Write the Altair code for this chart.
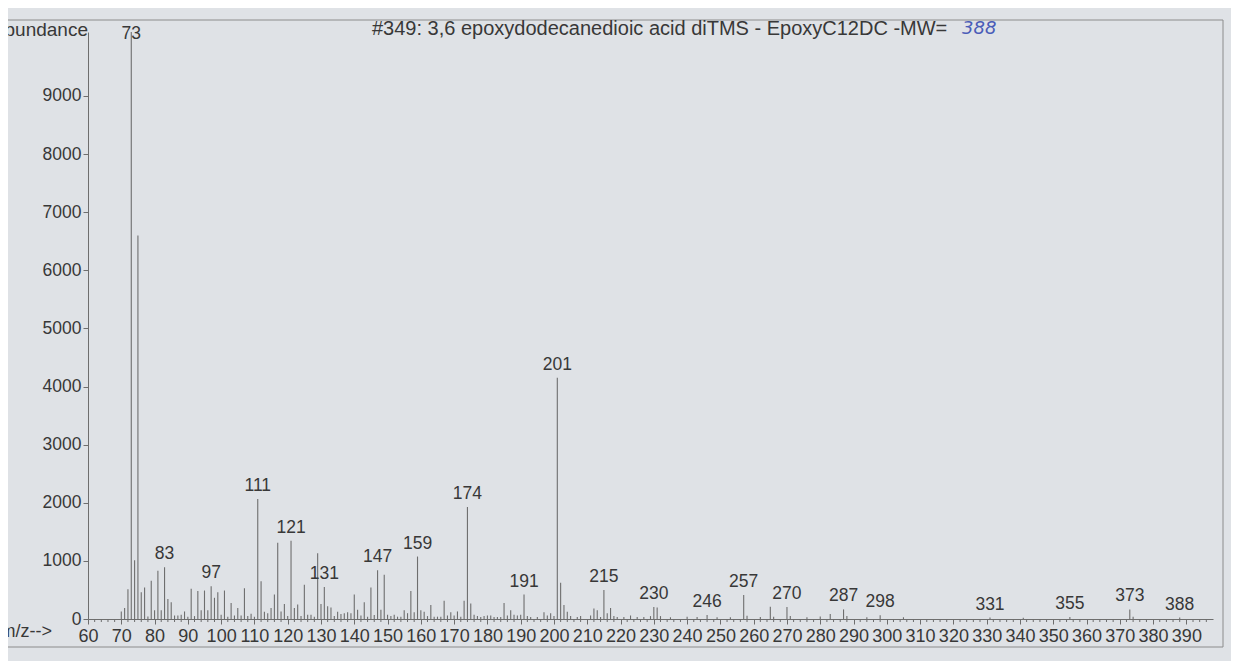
import altair as alt
import pandas as pd

# m/z values and abundances
mz = [70, 71, 72, 73, 74, 75, 76, 77, 78, 79, 80, 81, 82, 83, 84, 85, 86, 87, 88, 89,
      90, 91, 92, 93, 94, 95, 96, 97, 98, 99, 100, 101, 102, 103, 104, 105, 106, 107, 108, 109,
      110, 111, 112, 113, 114, 115, 116, 117, 118, 119, 120, 121, 122, 123, 124, 125, 126, 127, 128, 129,
      130, 131, 132, 133, 134, 135, 136, 137, 138, 139, 140, 141, 142, 143, 144, 145, 146, 147, 148, 149,
      150, 151, 152, 153, 154, 155, 156, 157, 158, 159, 160, 161, 162, 163, 164, 165, 166, 167, 168, 169,
      170, 171, 172, 173, 174, 175, 176, 177, 178, 179, 180, 181, 182, 183, 184, 185, 186, 187, 188, 189,
      190, 191, 192, 193, 195, 197, 198, 199, 200, 201, 202, 203, 204, 205, 207, 208, 211, 212, 213, 214,
      215, 216, 217, 218, 219, 221, 223, 225, 227, 229, 230, 231, 232, 235, 240, 243, 246, 249, 253, 257,
      258, 262, 265, 266, 270, 271, 276, 280, 283, 287, 288, 294, 298, 305, 331, 341, 355, 373, 374, 388]
abundance = [130, 190, 510, 10100, 1010, 6600, 460, 540, 45, 660, 150, 830, 150, 890, 345, 290, 60, 60, 75, 130,
             40, 520, 50, 480, 150, 490, 150, 565, 365, 460, 75, 490, 40, 275, 60, 190, 60, 530, 50, 90,
             40, 2065, 650, 125, 100, 190, 420, 1310, 130, 260, 50, 1345, 190, 250, 50, 590, 75, 75, 40, 1130,
             260, 550, 220, 200, 50, 125, 85, 100, 115, 100, 420, 160, 60, 290, 40, 540, 70, 840, 160, 760,
             75, 50, 75, 40, 40, 150, 100, 480, 115, 1075, 150, 125, 50, 240, 40, 40, 40, 315, 60, 115,
             60, 130, 40, 315, 1925, 265, 75, 50, 35, 50, 60, 60, 35, 35, 35, 275, 60, 150, 75, 60,
             75, 420, 50, 35, 35, 115, 60, 100, 50, 4150, 625, 240, 125, 50, 35, 50, 60, 180, 150, 35,
             500, 100, 190, 50, 35, 35, 60, 35, 35, 50, 205, 200, 50, 30, 40, 35, 70, 30, 30, 415,
             55, 35, 210, 40, 205, 50, 30, 45, 85, 165, 50, 30, 65, 30, 25, 20, 35, 165, 40, 25]

label_mz = [73, 83, 97, 111, 121, 131, 147, 159, 174, 191, 201, 215, 230, 246, 257, 270,
            287, 298, 331, 355, 373, 388]
major_ticks = list(range(60, 400, 10))
minor_ticks = [v for v in range(60, 398, 2) if v % 10 != 0]
y_ticks = list(range(0, 10000, 1000))

title_text = "#349: 3,6 epoxydodecanedioic acid diTMS - EpoxyC12DC -MW="
mw_note = "388"

df = pd.DataFrame({"mz": mz, "ab": abundance})
lab = df[df["mz"].isin(label_mz)].reset_index(drop=True)
minor_df = pd.DataFrame({"mz": minor_ticks})

FONT = "Liberation Sans"
LINE = "#6e6e6e"
TXT = "#383838"
W, H = 1125, 587

x_scale = alt.Scale(domain=[60, 398], nice=False, zero=False)
y_scale = alt.Scale(domain=[0, 10100], nice=False)

x_axis = alt.Axis(values=major_ticks, title=None, grid=False, format="d",
                  labelFontSize=18, labelFont=FONT, labelColor=TXT,
                  labelPadding=3, tickSize=5, tickColor=LINE, domainColor=LINE,
                  labelOverlap=False, labelFlush=False, labelBound=False)
y_axis = alt.Axis(values=y_ticks, title=None, grid=False, format="d",
                  labelFontSize=17.5, labelFont=FONT, labelColor=TXT,
                  labelPadding=2, tickSize=5, tickColor=LINE, domainColor=LINE,
                  labelOverlap=False, labelFlush=False)

peaks = alt.Chart(df).mark_rule(color=LINE, strokeWidth=1.1).encode(
    x=alt.X("mz:Q", scale=x_scale, axis=x_axis),
    y=alt.Y("ab:Q", scale=y_scale, axis=y_axis),
    y2=alt.datum(0),
)

minor = alt.Chart(minor_df).mark_rule(color=LINE, strokeWidth=1).encode(
    x=alt.X("mz:Q", scale=x_scale, axis=x_axis),
    y=alt.value(H),
    y2=alt.value(H + 3),
)

labels = alt.Chart(lab).transform_calculate(
    ly="min(datum.ab, 9835)"
).mark_text(baseline="bottom", dy=-4, fontSize=17.5, font=FONT, color=TXT).encode(
    x=alt.X("mz:Q", scale=x_scale, axis=x_axis),
    y=alt.Y("ly:Q", scale=y_scale, axis=y_axis),
    text=alt.Text("mz:Q", format="d"),
)

title = alt.Chart(pd.DataFrame({"t": [title_text]})).mark_text(
    align="left", baseline="alphabetic", fontSize=20, font=FONT, color=TXT).encode(
    x=alt.value(284), y=alt.value(3), text="t:N")

mw = alt.Chart(pd.DataFrame({"t": [mw_note]})).mark_text(
    align="left", baseline="alphabetic", fontSize=18, font="DejaVu Sans",
    fontStyle="italic", color="#4a5cb8").encode(
    x=alt.value(874), y=alt.value(2), text="t:N")

ylab = alt.Chart(pd.DataFrame({"t": ["Abundance"]})).mark_text(
    align="right", baseline="alphabetic", fontSize=19, font=FONT, color=TXT).encode(
    x=alt.value(0), y=alt.value(4), text="t:N")

xlab = alt.Chart(pd.DataFrame({"t": ["m/z-->"]})).mark_text(
    align="right", baseline="alphabetic", fontSize=18, font=FONT, color=TXT).encode(
    x=alt.value(-36), y=alt.value(605), text="t:N")

frame = alt.Chart(pd.DataFrame({"a": [0]})).mark_rect(
    fill=None, stroke="#8c8c8c", strokeWidth=1).encode(
    x=alt.value(-150), x2=alt.value(1135), y=alt.value(-12), y2=alt.value(615))

chart = alt.layer(frame, peaks, minor, labels, title, mw, ylab, xlab).properties(
    width=W, height=H,
    autosize=alt.AutoSizeParams(type="none"),
    padding={"left": 80, "top": 24, "right": 18, "bottom": 42},
    background="#dfe2e6",
).configure_view(stroke=None)

chart.save("out.html", embed_options={"renderer": "svg", "actions": False})
